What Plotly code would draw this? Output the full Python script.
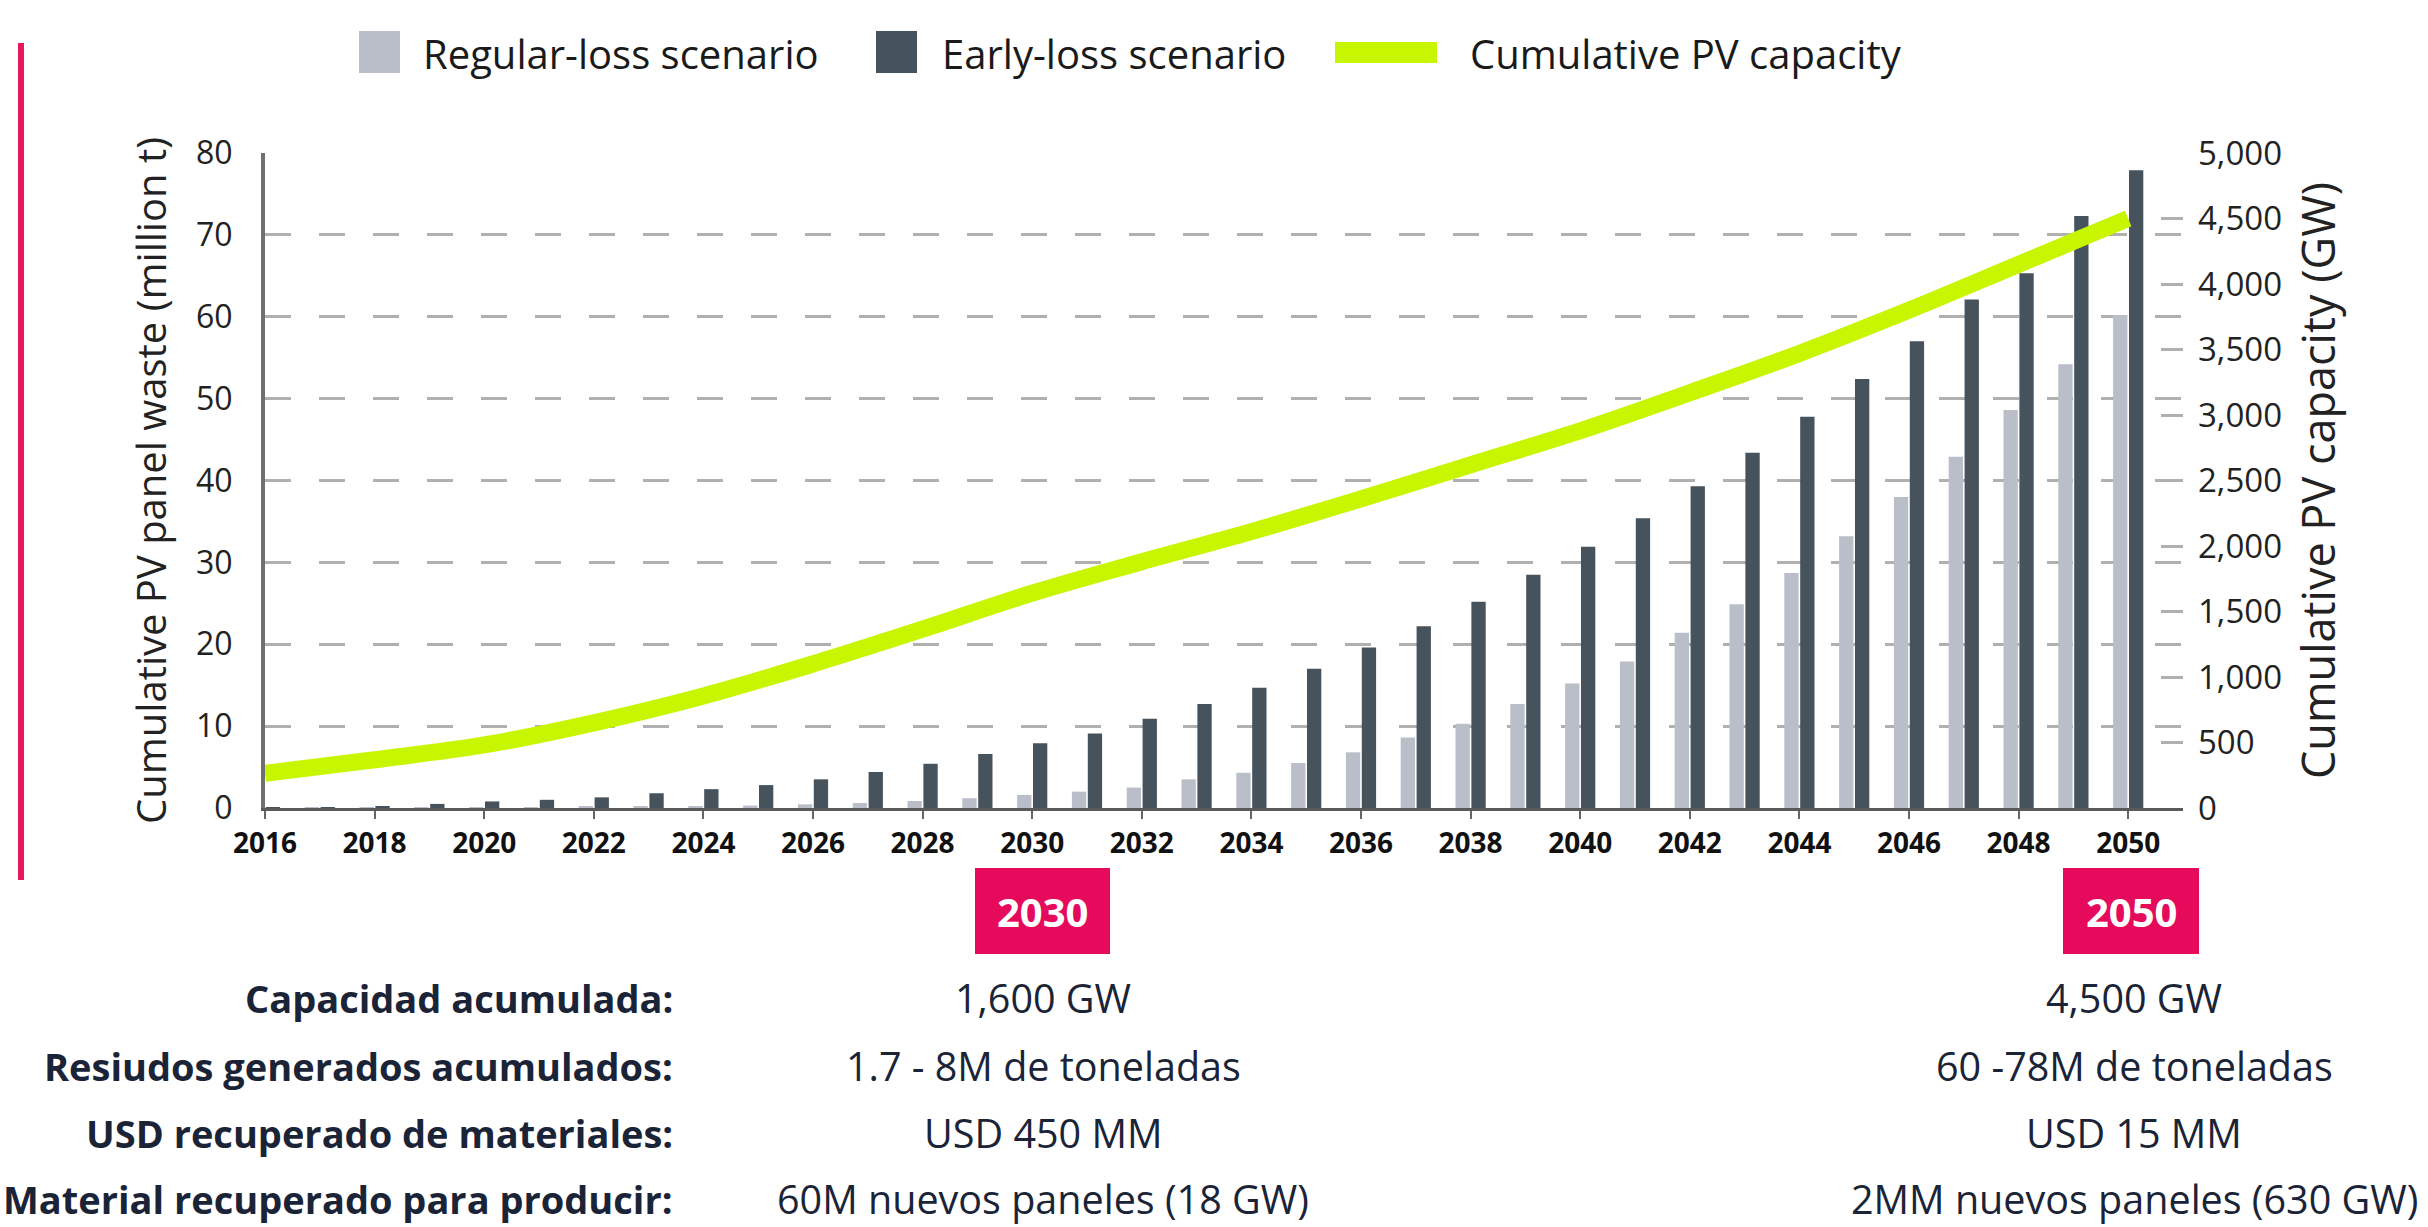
import plotly.graph_objects as go

# ---------------- data ----------------
years = [2016, 2017, 2018, 2019, 2020, 2021, 2022, 2023, 2024, 2025,
         2026, 2027, 2028, 2029, 2030, 2031, 2032, 2033, 2034, 2035,
         2036, 2037, 2038, 2039, 2040, 2041, 2042, 2043, 2044, 2045,
         2046, 2047, 2048, 2049, 2050]

regular_loss = [0.0, 0.02, 0.04, 0.06, 0.08, 0.1, 0.13, 0.17, 0.22, 0.3,
                0.45, 0.6, 0.85, 1.2, 1.6, 2.0, 2.5, 3.5, 4.3, 5.5,
                6.8, 8.6, 10.3, 12.7, 15.2, 17.9, 21.4, 24.9, 28.7, 33.2,
                38.0, 42.9, 48.6, 54.2, 60.2]

early_loss = [0.05, 0.1, 0.2, 0.5, 0.8, 1.0, 1.3, 1.8, 2.3, 2.8,
              3.5, 4.4, 5.4, 6.6, 7.9, 9.1, 10.9, 12.7, 14.7, 17.0,
              19.6, 22.2, 25.2, 28.5, 31.9, 35.4, 39.3, 43.4, 47.8, 52.4,
              57.0, 62.1, 65.3, 72.3, 77.9]

cap_years = [2016, 2018, 2020, 2022, 2024, 2026, 2028, 2030, 2032,
             2034, 2036, 2038, 2040, 2042, 2044, 2046, 2048, 2050]
cap_gw = [265, 368, 481, 650, 855, 1100, 1365, 1640, 1880,
          2110, 2360, 2620, 2880, 3170, 3470, 3800, 4150, 4500]

x_ticks = [2016, 2018, 2020, 2022, 2024, 2026, 2028, 2030, 2032, 2034,
           2036, 2038, 2040, 2042, 2044, 2046, 2048, 2050]

legend_labels = ["Regular-loss scenario", "Early-loss scenario", "Cumulative PV capacity"]

row_labels = ["Capacidad acumulada:", "Resiudos generados acumulados:",
              "USD recuperado de materiales:", "Material recuperado para producir:"]
values_2030 = ["1,600 GW", "1.7 - 8M de toneladas", "USD 450 MM", "60M nuevos paneles (18 GW)"]
values_2050 = ["4,500 GW", "60 -78M de toneladas", "USD 15 MM", "2MM nuevos paneles (630 GW)"]
highlight_years = ["2030", "2050"]

# ---------------- style ----------------
W, H = 2428, 1227
FONT = "Open Sans"
LIGHT = "#b9bec8"
DARK = "#46525c"
GREEN = "#c8f500"
PINK = "#e50a5c"
NAVY = "#1b2437"
GRID = "#b0b0b0"


def px(x):
    return x / W


def py(y):
    return 1 - y / H


fig = go.Figure()
fig.add_trace(go.Bar(x=years, y=regular_loss, name=legend_labels[0],
                     marker=dict(color=LIGHT, line=dict(width=0)), showlegend=False))
fig.add_trace(go.Bar(x=years, y=early_loss, name=legend_labels[1],
                     marker=dict(color=DARK, line=dict(width=0)), showlegend=False))
fig.add_trace(go.Scatter(x=cap_years, y=cap_gw, name=legend_labels[2], yaxis="y2",
                         mode="lines", line=dict(color=GREEN, width=17, shape="spline"),
                         showlegend=False))

shapes = []
annotations = []

# manual legend
leg_y0, leg_y1 = 31, 73
shapes.append(dict(type="rect", xref="paper", yref="paper", x0=px(359), x1=px(400),
                   y0=py(leg_y1), y1=py(leg_y0), fillcolor=LIGHT, line=dict(width=0)))
shapes.append(dict(type="rect", xref="paper", yref="paper", x0=px(876), x1=px(917),
                   y0=py(leg_y1), y1=py(leg_y0), fillcolor=DARK, line=dict(width=0)))
shapes.append(dict(type="rect", xref="paper", yref="paper", x0=px(1335), x1=px(1437),
                   y0=py(63), y1=py(42), fillcolor=GREEN, line=dict(width=0)))
for xl, txt in zip([421, 940, 1468], legend_labels):
    annotations.append(dict(xref="paper", yref="paper", x=px(xl), y=py(53), text=txt,
                            showarrow=False, xanchor="left", yanchor="middle",
                            font=dict(family=FONT, size=40, color="#1a1a1a")))

# left pink accent bar
shapes.append(dict(type="line", xref="paper", yref="paper", x0=px(21), x1=px(21),
                   y0=py(43), y1=py(880), line=dict(color="#e8175d", width=6)))

# highlight year boxes
for (bx0, bx1), yr in zip([(975, 1110), (2063, 2199)], highlight_years):
    shapes.append(dict(type="rect", xref="paper", yref="paper", x0=px(bx0), x1=px(bx1),
                       y0=py(954), y1=py(868), fillcolor=PINK, line=dict(width=0)))
    annotations.append(dict(xref="paper", yref="paper", x=px((bx0 + bx1) / 2), y=py(911),
                            text=yr, showarrow=False, xanchor="center", yanchor="middle",
                            font=dict(family=FONT, size=40, color="white", weight=700)))

rows_y = [998, 1066, 1133, 1199]
for yy, lab, v1, v2 in zip(rows_y, row_labels, values_2030, values_2050):
    annotations.append(dict(xref="paper", yref="paper", x=px(675), y=py(yy), text=lab,
                            showarrow=False, xanchor="right", yanchor="middle",
                            font=dict(family=FONT, size=38, color=NAVY, weight=700)))
    annotations.append(dict(xref="paper", yref="paper", x=px(1043), y=py(yy), text=v1,
                            showarrow=False, xanchor="center", yanchor="middle",
                            font=dict(family=FONT, size=39.5, color=NAVY)))
    annotations.append(dict(xref="paper", yref="paper", x=px(2134), y=py(yy), text=v2,
                            showarrow=False, xanchor="center", yanchor="middle",
                            font=dict(family=FONT, size=39.5, color=NAVY)))

fig.update_layout(
    template="none",
    width=W, height=H,
    margin=dict(l=0, r=0, t=0, b=0, pad=0),
    paper_bgcolor="white", plot_bgcolor="rgba(0,0,0,0)",
    barmode="group", bargap=0.42, bargroupgap=0.1,
    showlegend=False,
    font=dict(family=FONT, color="#222"),
    xaxis=dict(
        domain=[px(265), px(2183)], range=[2016, 2051], anchor="y",
        tickvals=x_ticks, ticks="outside", ticklen=8, tickwidth=2, tickcolor="#666",
        showline=True, linecolor="#5a5a5a", linewidth=3, showgrid=False, zeroline=False,
        tickfont=dict(family=FONT, size=28, color="#111", weight=700),
        automargin=False, fixedrange=True,
    ),
    yaxis=dict(
        domain=[py(808), py(153)], range=[0, 80], dtick=10, anchor="x",
        showgrid=True, gridcolor=GRID, gridwidth=2.5, griddash="26px,28px",
        showline=True, linecolor="#707070", linewidth=4, ticks="", zeroline=False,
        tickfont=dict(family=FONT, size=32, color="#222"), ticklabelstandoff=22,
        title=dict(text="Cumulative PV panel waste (million t)", standoff=18,
                   font=dict(family=FONT, size=40, color="#222")),
        automargin=False, fixedrange=True,
    ),
    yaxis2=dict(
        overlaying="y", side="right", anchor="x", range=[0, 5000], dtick=500,
        tickformat=",", showgrid=False, showline=False, zeroline=False,
        ticks="inside", ticklen=22, tickwidth=2.5, tickcolor=GRID,
        tickfont=dict(family=FONT, size=33, color="#222"), ticklabelstandoff=14,
        title=dict(text="Cumulative PV capacity (GW)", standoff=22,
                   font=dict(family=FONT, size=45, color="#222")),
        automargin=False, fixedrange=True,
    ),
    shapes=shapes,
    annotations=annotations,
)

fig.write_html("out.html", config={"displayModeBar": False},
               post_script="document.body.style.margin='0';")
